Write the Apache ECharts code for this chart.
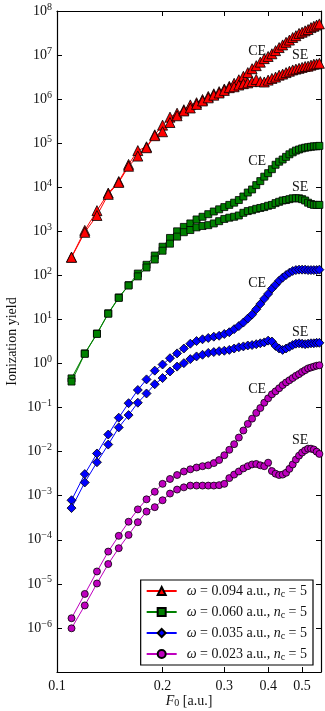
<!DOCTYPE html>
<html>
<head>
<meta charset="utf-8">
<title>Ionization yield</title>
<script src="https://cdn.jsdelivr.net/npm/echarts@6/dist/echarts.min.js"></script>
<style>
html, body { margin: 0; padding: 0; background: #fff; }
#chart { width: 325px; height: 711px; }
</style>
</head>
<body>
<div id="chart"></div>
<script>
// peak field F0 [a.u.]
const fieldStrength = [0.11, 0.12, 0.13, 0.14, 0.15, 0.16, 0.17, 0.18, 0.19, 0.20,
  0.21, 0.22, 0.23, 0.24, 0.25, 0.26, 0.27, 0.28, 0.29, 0.30,
  0.31, 0.32, 0.33, 0.34, 0.35, 0.36, 0.37, 0.38, 0.39, 0.40,
  0.41, 0.42, 0.43, 0.44, 0.45, 0.46, 0.47, 0.48, 0.49, 0.50,
  0.51, 0.52, 0.53, 0.54, 0.55, 0.56]

// omega = 0.094
const ce094 = [2.6e2, 1.05e3, 2.95e3, 7.4e3, 1.35e4, 3.3e4, 6.8e4, 8.3e4, 1.55e5, 2.57e5,
  3.9e5, 4.8e5, 5.75e5, 7.4e5, 8.3e5, 9.8e5, 1.15e6, 1.32e6, 1.48e6, 1.7e6,
  1.95e6, 2.29e6, 2.75e6, 3.3e6, 4.0e6, 4.9e6, 5.75e6, 6.9e6, 8.3e6, 9.3e6,
  1.07e7, 1.26e7, 1.48e7, 1.7e7, 1.95e7, 2.19e7, 2.5e7, 2.75e7, 3.1e7, 3.3e7,
  3.55e7, 3.8e7, 4.2e7, 4.5e7, 4.8e7, 5.1e7]
const se094 = [2.57e2, 9.5e2, 2.29e3, 6.9e3, 1.29e4, 3.0e4, 5.1e4, 7.9e4, 1.48e5, 1.82e5,
  2.95e5, 4.2e5, 5.4e5, 6.3e5, 7.6e5, 9.1e5, 1.07e6, 1.23e6, 1.38e6, 1.58e6,
  1.82e6, 1.91e6, 2.09e6, 2.24e6, 2.34e6, 2.5e6, 2.8e6, 2.5e6, 2.45e6, 2.7e6,
  2.95e6, 3.16e6, 3.5e6, 3.7e6, 4.0e6, 4.3e6, 4.6e6, 4.8e6, 5.0e6, 5.25e6,
  5.5e6, 5.6e6, 5.9e6, 6.2e6, 6.3e6, 6.5e6]

// omega = 0.060
const ce060 = [0.46, 1.7, 4.8, 13.8, 31.6, 60, 110, 174, 282, 447,
  708, 1000, 1260, 1510, 1860, 2140, 2450, 2820, 3160, 3550,
  3980, 4470, 5130, 6170, 7590, 8910, 1.12e4, 1.38e4, 1.74e4, 2.09e4,
  2.57e4, 3.24e4, 3.8e4, 4.27e4, 4.9e4, 5.6e4, 6.2e4, 6.8e4, 7.2e4, 7.6e4,
  7.9e4, 8.1e4, 8.3e4, 8.5e4, 8.5e4, 8.7e4]
const se060 = [0.39, 1.66, 4.7, 13.5, 30.9, 59, 95, 151, 229, 363,
  525, 759, 955, 1070, 1230, 1320, 1380, 1510, 1700, 1910,
  2040, 2140, 2290, 2630, 2880, 3020, 3240, 3390, 3550, 3800,
  3980, 4370, 4680, 5010, 5130, 5370, 5620, 5620, 5620, 5370,
  5010, 4470, 4170, 3980, 3980, 3980]

// omega = 0.035
const ce035 = [7.9e-4, 3.1e-3, 9.1e-3, 2.45e-2, 5.9e-2, 0.126, 0.251, 0.437, 0.69, 0.95,
  1.32, 1.70, 2.19, 2.82, 3.24, 3.55, 3.80, 4.07, 4.27, 4.68,
  5.13, 6.03, 7.08, 8.51, 10.5, 12.9, 17.0, 22.4, 29.5, 38.0,
  50.1, 61.7, 75.9, 89.1, 102, 115, 126, 132, 135, 135,
  135, 132, 132, 132, 132, 135]
const se035 = [5.25e-4, 2.0e-3, 5.75e-3, 1.45e-2, 3.55e-2, 6.76e-2, 0.129, 0.209, 0.339, 0.468,
  0.661, 0.851, 1.02, 1.26, 1.45, 1.58, 1.74, 1.82, 1.91, 1.95,
  2.04, 2.19, 2.34, 2.45, 2.57, 2.63, 2.75, 2.88, 3.02, 3.31,
  3.16, 2.51, 2.19, 2.04, 2.19, 2.40, 2.63, 2.82, 2.88, 2.82,
  2.75, 2.82, 2.88, 2.88, 2.95, 2.95]

// omega = 0.023
const ce023 = [1.66e-6, 5.9e-6, 1.91e-5, 5.4e-5, 1.23e-4, 2.57e-4, 4.9e-4, 8.3e-4, 1.23e-3, 1.86e-3,
  2.4e-3, 2.95e-3, 3.55e-3, 3.98e-3, 4.37e-3, 4.68e-3, 4.9e-3, 5.5e-3, 6.46e-3, 8.3e-3,
  1.1e-2, 1.48e-2, 2.09e-2, 3.02e-2, 4.27e-2, 5.62e-2, 7.59e-2, 9.77e-2, 0.129, 0.162,
  0.2, 0.234, 0.275, 0.324, 0.372, 0.417, 0.468, 0.525, 0.575, 0.646,
  0.708, 0.776, 0.813, 0.851, 0.891, 0.912]
const se023 = [9.8e-7, 3.24e-6, 1.02e-5, 2.82e-5, 6.46e-5, 1.29e-4, 2.51e-4, 4.37e-4, 5.5e-4, 7.9e-4,
  1.12e-3, 1.38e-3, 1.55e-3, 1.7e-3, 1.7e-3, 1.7e-3, 1.7e-3, 1.7e-3, 1.74e-3, 1.86e-3,
  2.51e-3, 3.02e-3, 3.55e-3, 4.17e-3, 4.68e-3, 5.13e-3, 5.25e-3, 4.9e-3, 4.68e-3, 5.62e-3,
  3.63e-3, 3.16e-3, 2.95e-3, 3.02e-3, 3.31e-3, 4.07e-3, 5.13e-3, 6.61e-3, 8.13e-3, 9.55e-3,
  1.07e-2, 1.17e-2, 1.17e-2, 1.12e-2, 1.0e-2, 8.9e-3]

// where the CE / SE tags sit [F0, yield]
const ceTags = [[0.372, 1.23e7], [0.372, 3.9e4], [0.372, 67], [0.372, 0.265]]
const seTags = [[0.4935, 1.0e7], [0.4935, 1.0e4], [0.4935, 5.2], [0.4935, 0.0185]]

const omegas = ['0.094', '0.060', '0.035', '0.023']
const xTicks = [0.1, 0.2, 0.3, 0.4, 0.5]
const yTicks = [1e-6, 1e-5, 1e-4, 1e-3, 1e-2, 1e-1, 1, 1e1, 1e2, 1e3, 1e4, 1e5, 1e6, 1e7, 1e8]

const FONT = '"Liberation Serif", "DejaVu Serif", serif'
const colors = ['#ff0000', '#008000', '#0000ff', '#bf00bf']
const symbols = ['triangle', 'rect', 'diamond', 'circle']
const symbolSizes = [10, 7, 9, 7]
const curves = [[ce094, se094], [ce060, se060], [ce035, se035], [ce023, se023]]

function pairUp (values) {
  return fieldStrength.map((f, i) => [f, values[i]])
}

function tag (text, coord) {
  return {
    symbol: 'circle',
    symbolSize: 1,
    itemStyle: { color: 'rgba(0,0,0,0)' },
    label: { show: true, position: 'inside', formatter: text, color: '#111', fontSize: 14, fontFamily: FONT },
    data: [{ coord: coord }]
  }
}

const series = []
curves.forEach((pair, k) => {
  pair.forEach((values, j) => {
    series.push({
      name: omegas[k],
      type: 'line',
      data: pairUp(values),
      symbol: symbols[k],
      symbolSize: symbolSizes[k],
      showAllSymbol: true,
      lineStyle: { color: colors[k], width: 1 },
      itemStyle: { color: colors[k], borderColor: '#000', borderWidth: 0.8 },
      emphasis: { disabled: true },
      markPoint: tag(j === 0 ? 'CE' : 'SE', j === 0 ? ceTags[k] : seTags[k]),
      z: 2 + k
    })
  })
})

function power (v) {
  const e = Math.round(Math.log10(v))
  return '{b|10}{s|' + String(e).replace('-', '\u2212') + '}'
}

const tickStyle = { inside: true, length: 5, lineStyle: { color: '#000', width: 1 } }
const frame = { show: true, lineStyle: { color: '#000', width: 1.2 } }

const chart = echarts.init(document.getElementById('chart'))
chart.setOption({
  animation: false,
  backgroundColor: '#fff',
  textStyle: { fontFamily: FONT },
  grid: { left: 57, right: 4, top: 11, bottom: 39, containLabel: false, outerBoundsMode: 'none' },
  xAxis: [
    {
      type: 'log',
      logBase: 10,
      min: 0.1,
      max: 0.566,
      position: 'bottom',
      axisLine: frame,
      axisTick: Object.assign({ customValues: xTicks }, tickStyle),
      axisLabel: {
        customValues: xTicks,
        formatter: v => v.toFixed(1),
        color: '#111',
        fontSize: 14,
        fontFamily: FONT,
        margin: 7
      },
      splitLine: { show: false },
      name: '{i|F}{sub|0} [a.u.]',
      nameLocation: 'middle',
      nameGap: 22,
      nameMoveOverlap: false,
      nameTextStyle: {
        color: '#111',
        fontSize: 14,
        fontFamily: FONT,
        rich: {
          i: { fontStyle: 'italic', fontSize: 14, fontFamily: FONT, color: '#111' },
          sub: { fontSize: 10, fontFamily: FONT, color: '#111', verticalAlign: 'bottom', lineHeight: 8 }
        }
      }
    },
    {
      type: 'log',
      logBase: 10,
      min: 0.1,
      max: 0.566,
      position: 'top',
      axisLine: frame,
      axisTick: Object.assign({ customValues: xTicks }, tickStyle),
      axisLabel: { show: false },
      splitLine: { show: false }
    }
  ],
  yAxis: [
    {
      type: 'log',
      logBase: 10,
      min: 1e-7,
      max: 1e8,
      position: 'left',
      axisLine: frame,
      axisTick: Object.assign({ customValues: yTicks }, tickStyle),
      axisLabel: {
        customValues: yTicks,
        formatter: power,
        margin: 5,
        rich: {
          b: { fontSize: 14, fontFamily: FONT, color: '#111', lineHeight: 18 },
          s: { fontSize: 10, fontFamily: FONT, color: '#111', lineHeight: 8, verticalAlign: 'top' }
        }
      },
      splitLine: { show: false },
      name: 'Ionization yield',
      nameLocation: 'middle',
      nameGap: 38,
      nameRotate: 90,
      nameMoveOverlap: false,
      nameTextStyle: { color: '#111', fontSize: 14, fontFamily: FONT }
    },
    {
      type: 'log',
      logBase: 10,
      min: 1e-7,
      max: 1e8,
      position: 'right',
      axisLine: frame,
      axisTick: Object.assign({ customValues: yTicks }, tickStyle),
      axisLabel: { show: false },
      splitLine: { show: false }
    }
  ],
  legend: {
    data: omegas,
    orient: 'vertical',
    right: 12,
    bottom: 46,
    itemWidth: 30,
    itemHeight: 10,
    itemGap: 5,
    padding: [3, 6, 3, 5],
    backgroundColor: '#fff',
    borderColor: '#000',
    borderWidth: 1.2,
    borderRadius: 0,
    formatter: name => '{i|\u03c9} = ' + name + ' a.u., {i|n}{sub|c} = 5',
    textStyle: {
      color: '#111',
      fontSize: 14,
      fontFamily: FONT,
      lineHeight: 16,
      padding: [0, 0, 0, 5],
      rich: {
        i: { fontStyle: 'italic', fontSize: 14, fontFamily: FONT, color: '#111' },
        sub: { fontSize: 10, fontFamily: FONT, color: '#111', verticalAlign: 'bottom', lineHeight: 10 }
      }
    }
  },
  series: series
})
</script>
</body>
</html>
